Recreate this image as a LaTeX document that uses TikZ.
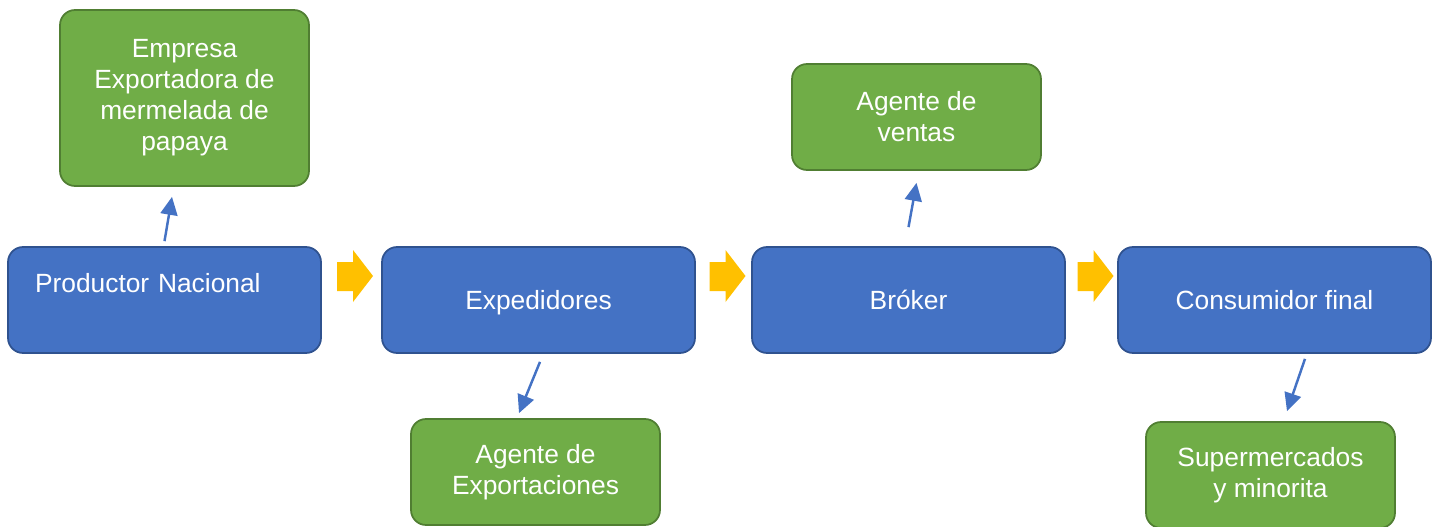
\documentclass[tikz,border=0pt]{standalone}
\usepackage{fontspec}
\setmainfont{Liberation Sans}
\usetikzlibrary{positioning}
\usetikzlibrary{arrows.meta}
\definecolor{boxblue}{HTML}{4472C4}
\definecolor{boxblueedge}{HTML}{2F528F}
\definecolor{boxgreen}{HTML}{70AD47}
\definecolor{boxgreenedge}{HTML}{507E32}
\definecolor{flowyellow}{HTML}{FFC000}

\begin{document}
\begin{tikzpicture}[x=0.02cm, y=-0.02cm,
    stage/.style={draw=boxblueedge, fill=boxblue, line width=1pt, rounded corners=0.3cm,
        minimum width=6.26cm, minimum height=2.12cm, text=white, text height=10.8pt, text depth=0pt,
        font=\fontsize{15}{17.6}\selectfont},
    agent/.style={draw=boxgreenedge, fill=boxgreen, line width=1pt, rounded corners=0.3cm,
        minimum width=4.98cm, minimum height=2.12cm, align=center, text=white,
        font=\fontsize{15}{17.6}\selectfont},
    link/.style={-{Triangle[length=0.36cm, width=0.34cm]}, draw=boxblue, line width=1.4pt}]
    \useasboundingbox (0,0) rectangle (1441,527);

    % Main chain
    \node[stage, align=left, text width=5.18cm, inner xsep=0.54cm] (prod) at (164.5, 300) {\raisebox{0.33cm}{Productor Nacional}};
    \node[stage] (exped) at (538.5, 300) {Expedidores};
    \node[stage] (broker) at (908.5, 300) {Bróker};
    \node[stage] (consum) at (1274.5, 300) {Consumidor final};

    % Yellow flow arrows
    \foreach \cx in {355, 727.5, 1095.5} {
        \fill[flowyellow] (\cx-18, 262) -- (\cx-2, 262) -- (\cx-2, 250) -- (\cx+18, 276)
            -- (\cx-2, 302) -- (\cx-2, 291) -- (\cx-18, 291) -- cycle;
    }

    % Side agents
    \node[agent, minimum height=3.52cm] (empresa) at (184.5, 98) {Empresa\\Exportadora de\\mermelada de\\papaya};
    \node[agent] (ventas) at (916.5, 117) {Agente de\\ventas};
    \node[agent] (export) at (535.5, 472) {Agente de\\Exportaciones};
    \node[agent] (super) at (1270.5, 475) {Supermercados\\y minorita};

    % Links
    \draw[link] ([yshift=0.1cm]prod.north) -- ([xshift=-0.25cm, yshift=-0.2cm]empresa.south);
    \draw[link] ([yshift=0.38cm]broker.north) -- ([yshift=-0.24cm]ventas.south);
    \draw[link] ([xshift=0.03cm, yshift=-0.16cm]exped.south) -- ([xshift=-0.33cm, yshift=0.1cm]export.north);
    \draw[link] ([xshift=0.61cm, yshift=-0.1cm]consum.south) -- ([xshift=0.33cm, yshift=0.2cm]super.north);
\end{tikzpicture}
\end{document}
